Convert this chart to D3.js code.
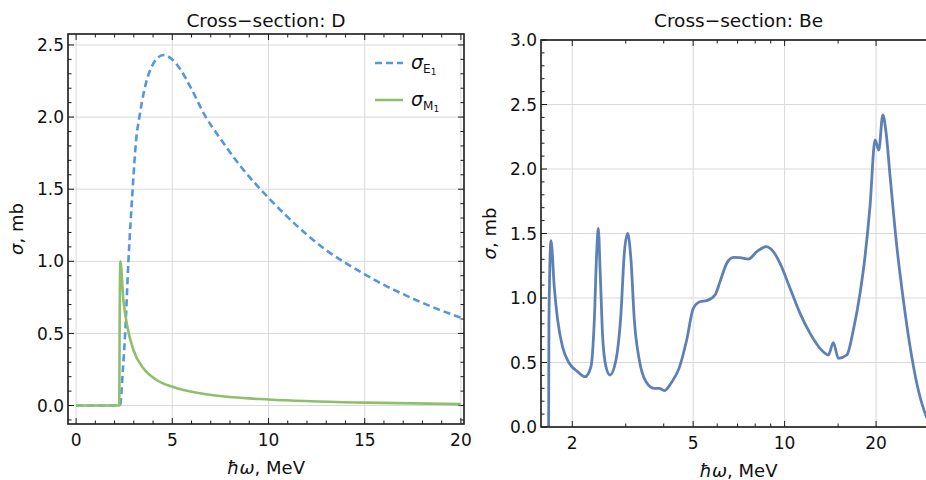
<!DOCTYPE html>
<html><head><meta charset="utf-8">
<script src="https://cdn.jsdelivr.net/npm/d3@7"></script>
<style>
html,body{margin:0;padding:0;background:#fff;}
text{font-family:"DejaVu Sans",sans-serif;fill:#111;}
</style></head>
<body>
<svg id="chart" width="926" height="480"></svg>
<script>
// ---------- DATA ----------
// Left panel: deuteron cross-sections (E in MeV, sigma in mb)
const dE1 = [[0,0],[2.24,0],[2.3,0.01],[2.42,0.223],[2.55,0.5],[2.72,1.0],[2.94,1.5],[3.12,1.84],[3.29,2.0],[3.55,2.19],[3.93,2.35],[4.2,2.405],[4.54,2.43],[4.95,2.405],[5.4,2.335],[5.92,2.215],[6.7,2.01],[7.5,1.85],[8.5,1.667],[10,1.44],[11,1.306],[12,1.184],[13,1.077],[14,0.989],[15,0.91],[16,0.836],[17,0.772],[18,0.712],[19,0.658],[20,0.609]];
const dM1 = [[0,0],[2.24,0],[2.245,0.0],[2.26,0.45],[2.3,1.0],[2.46,0.73],[2.63,0.57],[2.98,0.385],[3.5,0.258],[4.19,0.177],[5,0.13],[6.44,0.085],[8.17,0.057],[10,0.042],[15,0.02],[20,0.01]];
const leftXTicks = [0,5,10,15,20];
const leftXTickLabels = ["0","5","10","15","20"];
const leftYTicks = [0,0.5,1.0,1.5,2.0,2.5];
const leftYTickLabels = ["0.0","0.5","1.0","1.5","2.0","2.5"];
// Right panel: beryllium cross-section
const beData = [[1.672,0],[1.676,0.83],[1.702,1.444],[1.745,1.088],[1.79,0.83],[1.857,0.623],[1.955,0.494],[2.083,0.429],[2.206,0.39],[2.304,0.467],[2.364,0.83],[2.406,1.346],[2.436,1.54],[2.47,1.217],[2.518,0.70],[2.582,0.467],[2.661,0.403],[2.785,0.519],[2.893,0.881],[2.967,1.346],[3.043,1.50],[3.121,1.295],[3.201,0.83],[3.324,0.519],[3.497,0.351],[3.724,0.30],[3.868,0.30],[4.018,0.282],[4.226,0.339],[4.502,0.46],[4.76,0.674],[5.005,0.92],[5.266,0.971],[5.54,0.979],[5.90,1.023],[6.13,1.127],[6.45,1.269],[6.78,1.315],[7.13,1.313],[7.60,1.302],[8.10,1.359],[8.69,1.398],[9.18,1.359],[9.66,1.269],[10.42,1.075],[11.24,0.881],[12.13,0.726],[13.08,0.61],[13.93,0.558],[14.47,0.654],[15.03,0.532],[16.02,0.558],[16.84,0.752],[17.71,1.036],[18.39,1.32],[19.10,1.708],[19.85,2.225],[20.41,2.147],[21.05,2.419],[21.59,2.277],[22.25,1.94],[23.41,1.398],[24.6,0.984],[25.88,0.623],[27.23,0.339],[29.0,0.106],[30.5,0.0]];
const rightXTicks = [2,5,10,20];
const rightXTickLabels = ["2","5","10","20"];
const rightXMinor = [3,4,6,7,8,9,15,30];
const rightYTicks = [0,0.5,1.0,1.5,2.0,2.5,3.0];
const rightYTickLabels = ["0.0","0.5","1.0","1.5","2.0","2.5","3.0"];
const titles = ["Cross\u2212section: D","Cross\u2212section: Be"];

// ---------- SETUP ----------
const svg = d3.select("#chart");
const gridColor = "#d9d9d9", frameColor = "#1a1a1a";
const TICK = 17, TITLE = 18.5, LABEL = 18;

function panel(opts){
  const {x, y, xMajor, xMajorLabels, xMinor, yMajor, yMajorLabels, yMinor, title, id} = opts;
  const [fx0, fx1] = x.range(), [fy0, fy1] = y.range(); // fy0 bottom, fy1 top
  const g = svg.append("g");
  g.append("clipPath").attr("id", id).append("rect")
    .attr("x", fx0).attr("y", fy1).attr("width", fx1 - fx0).attr("height", fy0 - fy1);
  // grid
  g.selectAll(null).data(xMajor).enter().append("line")
    .attr("x1", d => x(d)).attr("x2", d => x(d)).attr("y1", fy0).attr("y2", fy1)
    .attr("stroke", gridColor).attr("stroke-width", 1);
  g.selectAll(null).data(yMajor).enter().append("line")
    .attr("x1", fx0).attr("x2", fx1).attr("y1", d => y(d)).attr("y2", d => y(d))
    .attr("stroke", gridColor).attr("stroke-width", 1);
  const ticks = g.append("g");
  const addT = (vals, len, axis) => {
    vals.forEach(v => {
      if (axis === "x") {
        const px = x(v);
        ticks.append("line").attr("x1", px).attr("x2", px).attr("y1", fy0).attr("y2", fy0 - len).attr("stroke", frameColor).attr("stroke-width", 1);
        ticks.append("line").attr("x1", px).attr("x2", px).attr("y1", fy1).attr("y2", fy1 + len).attr("stroke", frameColor).attr("stroke-width", 1);
      } else {
        const py = y(v);
        ticks.append("line").attr("x1", fx0).attr("x2", fx0 + len).attr("y1", py).attr("y2", py).attr("stroke", frameColor).attr("stroke-width", 1);
        ticks.append("line").attr("x1", fx1).attr("x2", fx1 - len).attr("y1", py).attr("y2", py).attr("stroke", frameColor).attr("stroke-width", 1);
      }
    });
  };
  addT(xMajor, 6, "x"); addT(xMinor, 3.5, "x");
  addT(yMajor, 6, "y"); addT(yMinor, 3.5, "y");
  // tick labels
  g.selectAll(null).data(xMajor).enter().append("text")
    .attr("x", d => x(d)).attr("y", fy0 + 22).attr("text-anchor", "middle")
    .attr("font-size", TICK).text((d, i) => xMajorLabels[i]);
  g.selectAll(null).data(yMajor).enter().append("text")
    .attr("x", fx0 - 4).attr("y", d => y(d)).attr("dy", "0.36em").attr("text-anchor", "end")
    .attr("font-size", TICK).text((d, i) => yMajorLabels[i]);
  // title
  g.append("text").attr("x", (fx0 + fx1) / 2).attr("y", 27).attr("text-anchor", "middle")
    .attr("font-size", TITLE).text(title);
  // x label
  const xl = g.append("text").attr("x", (fx0 + fx1) / 2).attr("y", fy0 + 50).attr("text-anchor", "middle").attr("font-size", LABEL);
  xl.append("tspan").attr("font-style", "italic").text("\u0127\u03C9");
  xl.append("tspan").text(", MeV");
  // y label
  const yl = g.append("text").attr("transform", `translate(${fx0 - 45},${(fy0 + fy1) / 2}) rotate(-90)`)
    .attr("text-anchor", "middle").attr("font-size", LABEL);
  yl.append("tspan").attr("font-style", "italic").text("\u03C3");
  yl.append("tspan").text(", mb");
  return {g, fx0, fx1, fy0, fy1};
}

// ---------- LEFT PANEL ----------
const xL = d3.scaleLinear().domain([-0.42, 20.16]).range([68, 464]);
const yL = d3.scaleLinear().domain([-0.128, 2.576]).range([424, 34]);
const pL = panel({
  id: "clipL", x: xL, y: yL,
  xMajor: leftXTicks, xMajorLabels: leftXTickLabels, xMinor: d3.range(0, 21).filter(v => v % 5 !== 0),
  yMajor: leftYTicks, yMajorLabels: leftYTickLabels, yMinor: d3.range(-1, 26).map(v => v / 10).filter(v => Math.round(v * 10) % 5 !== 0),
  title: titles[0]
});
const lineL = d3.line().x(d => xL(d[0])).y(d => yL(d[1])).curve(d3.curveMonotoneX);
const eColor = "#5597df", mColor = "#8fbf6c";
pL.g.append("path").datum(dE1).attr("d", lineL).attr("fill", "none")
  .attr("stroke", eColor).attr("stroke-width", 2.6).attr("stroke-dasharray", "7,4").attr("clip-path", "url(#clipL)");
pL.g.append("path").datum(dM1).attr("d", lineL).attr("fill", "none")
  .attr("stroke", mColor).attr("stroke-width", 2.6).attr("stroke-linejoin", "round").attr("clip-path", "url(#clipL)");
pL.g.append("rect").attr("x", 68).attr("y", 34).attr("width", 396).attr("height", 390)
  .attr("fill", "none").attr("stroke", frameColor).attr("stroke-width", 1.6);
// legend
const legend = [{name: "E", color: eColor, dash: "7,4"}, {name: "M", color: mColor, dash: null}];
legend.forEach((l, i) => {
  const ly = 63 + i * 37;
  pL.g.append("line").attr("x1", 375).attr("x2", 403).attr("y1", ly).attr("y2", ly)
    .attr("stroke", l.color).attr("stroke-width", 2.6).attr("stroke-dasharray", l.dash);
  const t = pL.g.append("text").attr("x", 411).attr("y", ly + 6).attr("font-size", 19);
  t.append("tspan").attr("font-style", "italic").text("\u03C3");
  t.append("tspan").attr("font-size", 12).attr("dy", 4).text(l.name);
  t.append("tspan").attr("font-size", 9).attr("dy", 2).text("1");
});

// ---------- RIGHT PANEL ----------
const xR = d3.scaleLog().domain([1.578, 31.5]).range([541, 936]);
const yR = d3.scaleLinear().domain([0, 3]).range([427, 40]);
const pR = panel({
  id: "clipR", x: xR, y: yR,
  xMajor: rightXTicks, xMajorLabels: rightXTickLabels, xMinor: rightXMinor,
  yMajor: rightYTicks, yMajorLabels: rightYTickLabels, yMinor: d3.range(0, 31).map(v => v / 10).filter(v => Math.round(v * 10) % 5 !== 0),
  title: titles[1]
});
const lineR = d3.line().x(d => xR(d[0])).y(d => yR(d[1])).curve(d3.curveMonotoneX);
pR.g.append("path").datum(beData).attr("d", lineR).attr("fill", "none")
  .attr("stroke", "#5e81b5").attr("stroke-width", 2.8).attr("stroke-linejoin", "round").attr("clip-path", "url(#clipR)");
pR.g.append("rect").attr("x", 541).attr("y", 40).attr("width", 395).attr("height", 387)
  .attr("fill", "none").attr("stroke", frameColor).attr("stroke-width", 1.6);
</script>
</body></html>
